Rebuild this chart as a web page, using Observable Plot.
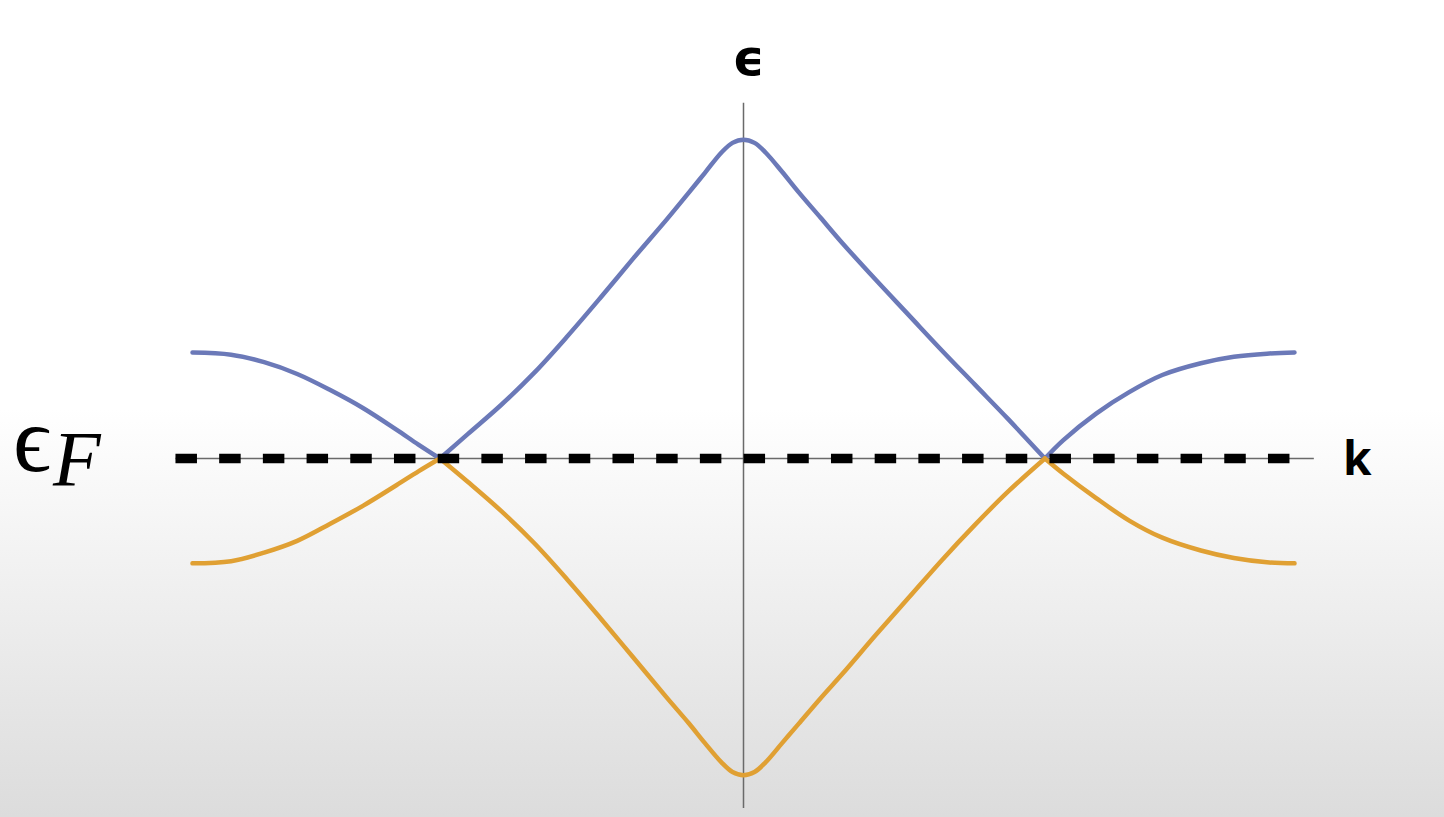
<!DOCTYPE html>
<html><head><meta charset="utf-8">
<script src="https://cdn.jsdelivr.net/npm/d3@7"></script>
<script src="https://cdn.jsdelivr.net/npm/@observablehq/plot@0.6"></script>
<style>
html,body{margin:0;padding:0;background:#fff;overflow:hidden;}
</style></head><body><div id="chart"></div>
<script>
// Upper band (blue): k in units of the half zone, energy relative to E_F
const kUpper = [-1.00,-0.93,-0.87,-0.81,-0.75,-0.69,-0.63,-0.59,-0.551,-0.50,-0.44,-0.38,-0.32,-0.26,-0.20,-0.14,-0.10,-0.07,-0.04,-0.02,0.00,0.02,0.04,0.07,0.10,0.14,0.18,0.24,0.30,0.36,0.42,0.48,0.547,0.58,0.64,0.70,0.76,0.83,0.89,0.95,1.00];
const eUpper = [0.99,0.97,0.90,0.79,0.64,0.47,0.27,0.13,0,0.23,0.50,0.80,1.14,1.50,1.87,2.23,2.48,2.67,2.86,2.95,2.98,2.95,2.86,2.68,2.49,2.25,2.01,1.67,1.34,1.01,0.69,0.37,0,0.17,0.42,0.62,0.78,0.89,0.95,0.98,0.99];
// Lower band (orange)
const kLower = [-1.00,-0.93,-0.87,-0.81,-0.75,-0.69,-0.63,-0.59,-0.551,-0.50,-0.44,-0.38,-0.32,-0.26,-0.20,-0.14,-0.10,-0.07,-0.04,-0.02,0.00,0.02,0.04,0.07,0.10,0.14,0.18,0.24,0.30,0.36,0.42,0.48,0.547,0.58,0.64,0.70,0.76,0.83,0.89,0.95,1.00];
const eLower = [-0.98,-0.96,-0.88,-0.77,-0.61,-0.44,-0.25,-0.12,0,-0.22,-0.49,-0.79,-1.13,-1.49,-1.86,-2.23,-2.47,-2.66,-2.84,-2.93,-2.96,-2.93,-2.84,-2.66,-2.48,-2.24,-2.01,-1.65,-1.30,-0.95,-0.62,-0.31,0,-0.14,-0.37,-0.58,-0.74,-0.86,-0.93,-0.97,-0.98];
// Axis extents and Fermi level
const kAxisExtent = [-1.03, 1.036];
const eAxisExtent = [-3.27, 3.32];
const fermiLevel = [0];
const fermiExtent = [-1.03, 1.0];
// Labels
const axisLabels = ["ϵ", "k"];
const fermiLabel = ["ϵ", "F"];

function bandRows(ks, es, band) {
  const rows = [];
  let seg = 0;
  ks.forEach((k, i) => {
    rows.push({k, e: es[i], z: band + seg});
    if (es[i] === 0 && i > 0 && i < ks.length - 1) {
      seg++;
      rows.push({k, e: es[i], z: band + seg});
    }
  });
  return rows;
}
const upper = bandRows(kUpper, eUpper, "up");
const lower = bandRows(kLower, eLower, "lo");

const chart = Plot.plot({
  width: 1444,
  height: 817,
  x: {domain: [-1, 1], range: [192, 1294], axis: null},
  y: {domain: [-3, 3], range: [779, 137], axis: null},
  style: {background: "linear-gradient(to bottom, #ffffff 0%, #ffffff 50%, #f1f1f1 70%, #dcdcdc 100%)", overflow: "visible"},
  marks: [
    Plot.ruleX([0], {y1: eAxisExtent[0], y2: eAxisExtent[1], stroke: "#6a6a6a", strokeWidth: 1.5}),
    Plot.ruleY([0], {x1: kAxisExtent[0], x2: kAxisExtent[1], stroke: "#6a6a6a", strokeWidth: 1.5}),
    Plot.line(upper, {x: "k", y: "e", z: "z", stroke: "#6b79b8", strokeWidth: 4.5, curve: "catmull-rom"}),
    Plot.line(lower, {x: "k", y: "e", z: "z", stroke: "#e0a033", strokeWidth: 4.5, curve: "catmull-rom"}),
    Plot.ruleY(fermiLevel, {x1: fermiExtent[0], x2: fermiExtent[1], stroke: "#000", strokeWidth: 9.5, strokeDasharray: "21.5,22.2"}),
    Plot.text([axisLabels[0]], {x: 0, y: eAxisExtent[1], text: d => d, dx: 5, dy: -44, fontSize: 50, fontWeight: "bold", fontFamily: "DejaVu Sans", fill: "#000", textAnchor: "middle", lineAnchor: "middle"}),
    Plot.text([axisLabels[1]], {x: kAxisExtent[1], y: 0, text: d => d, dx: 43, dy: 2, fontSize: 46, fontWeight: "bold", fontFamily: "Open Sans", fill: "#000", textAnchor: "middle", lineAnchor: "middle"}),
    Plot.text([fermiLabel[0]], {x: kAxisExtent[0], y: 0, text: d => d, dx: -144, dy: 12, fontSize: 94, fontFamily: "Liberation Serif, DejaVu Serif", fill: "#000", textAnchor: "middle", lineAnchor: "bottom"}),
    Plot.text([fermiLabel[1]], {x: kAxisExtent[0], y: 0, text: d => d, dx: -123, dy: 26, fontSize: 78, fontStyle: "italic", fontFamily: "Liberation Serif", fill: "#000", textAnchor: "start", lineAnchor: "bottom"})
  ]
});
document.getElementById("chart").appendChild(chart);
</script></body></html>
